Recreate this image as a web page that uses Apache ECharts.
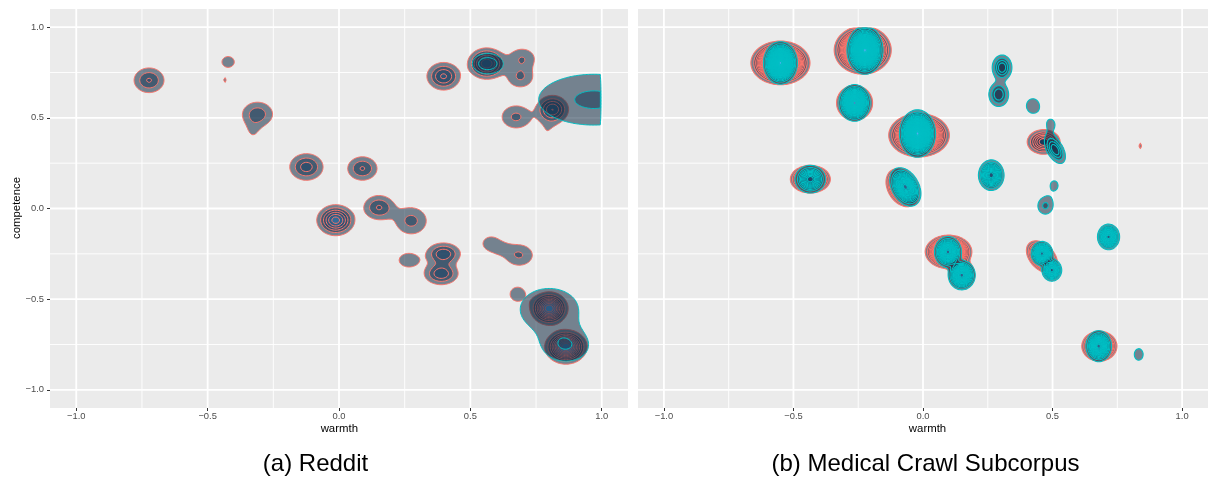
<!DOCTYPE html>
<html><head><meta charset="utf-8">
<script src="https://cdn.jsdelivr.net/npm/echarts@6/dist/echarts.min.js"></script>
<style>html,body{margin:0;padding:0;background:#fff}#c{width:1208px;height:479px}</style>
</head><body><div id="c"></div>
<script>
// ---------------- DATA ----------------
const tickValues = [-1, -0.5, 0, 0.5, 1];
const majorBreaks = [-1, -0.5, 0, 0.5, 1];
const minorBreaks = [-0.75, -0.25, 0.25, 0.75];
// density clusters: [warmth, competence, outer radius x, outer radius y, peak (in contour levels), tilt]
const redditSalmon = [
  [-0.723, 0.707, 0.057, 0.068, 3.1, 0],
  [-0.422, 0.808, 0.0235, 0.030, 1.3, 0],
  [-0.434, 0.707, 0.004, 0.011, 1.2, 0],
  [-0.310, 0.520, 0.057, 0.066, 2.6, 0],
  [-0.328, 0.420, 0.022, 0.040, 0.9, 0],
  [-0.124, 0.229, 0.0634, 0.0733, 3.5, 0],
  [0.089, 0.2205, 0.0558, 0.0645, 3.1, 0],
  [-0.0125, -0.0645, 0.0722, 0.0854, 6.5, 0],
  [0.152, 0.0055, 0.057, 0.066, 3.1, 0],
  [0.275, -0.068, 0.057, 0.0717, 2.3, 0],
  [0.398, 0.729, 0.0634, 0.0761, 4.2, 0],
  [0.562, 0.799, 0.0722, 0.0865, 7, 0],
  [0.697, 0.828, 0.045, 0.050, 1.95, 0],
  [0.690, 0.723, 0.045, 0.052, 2.05, 0],
  [0.674, 0.505, 0.053, 0.0606, 2.2, 0],
  [0.813, 0.5466, 0.0608, 0.0772, 5, 0],
  [0.7926, 0.4206, 0.0304, 0.0441, 0.9, 0],
  [0.265, -0.285, 0.036, 0.037, 1.9, 0],
  [0.3976, -0.250, 0.064, 0.060, 3.8, 0],
  [0.389, -0.360, 0.064, 0.060, 3.8, 0],
  [0.5788, -0.193, 0.0304, 0.0358, 1.3, 0],
  [0.6863, -0.2574, 0.0494, 0.0551, 2.1, 0],
  [0.6217, -0.2244, 0.0228, 0.022, 0.6, 0],
  [0.6798, -0.4724, 0.0285, 0.0386, 1.4, 0],
  [0.8002, -0.5513, 0.0722, 0.092, 10, 0],
  [0.8636, -0.763, 0.0809, 0.0954, 11, 0]
];
const redditCyan = [
  [0.970, 0.600, 0.210, 0.140, 2.2, 0],
  [0.800, -0.556, 0.110, 0.115, 1.9, 0],
  [0.8647, -0.760, 0.080, 0.080, 1.9, 0],
  [0.566, 0.799, 0.0581, 0.0551, 2.9, 0]
];
const medicalSalmon = [
  [-0.5503, 0.8027, 0.1139, 0.1202, 40, 0],
  [-0.2326, 0.8732, 0.110, 0.1323, 40, 0],
  [-0.2641, 0.5821, 0.0695, 0.0965, 20, 0],
  [-0.0152, 0.4041, 0.1169, 0.1196, 40, 0],
  [-0.4349, 0.1615, 0.077, 0.0761, 30, 0],
  [-0.080, 0.115, 0.0626, 0.1047, 30, -0.3],
  [0.4657, 0.3671, 0.0634, 0.0678, 7, 0],
  [0.8387, 0.3451, 0.005, 0.0138, 1.2, 0],
  [0.0987, -0.2392, 0.0899, 0.0921, 40, 0],
  [0.1495, -0.3622, 0.0493, 0.0772, 20, 0],
  [0.4592, -0.2668, 0.060, 0.0882, 20, -0.4],
  [0.6808, -0.7591, 0.0676, 0.0827, 30, 0]
];
const medicalCyan = [
  [-0.5503, 0.8027, 0.0653, 0.1169, 40, 0],
  [-0.2239, 0.8726, 0.0695, 0.1323, 40, 0],
  [-0.2641, 0.5821, 0.060, 0.1009, 30, 0],
  [-0.0213, 0.4134, 0.0695, 0.1307, 40, 0],
  [-0.4349, 0.1615, 0.0588, 0.0761, 11, 0],
  [-0.0683, 0.119, 0.060, 0.1058, 18, -0.35],
  [0.3051, 0.7773, 0.038, 0.0689, 5, 0],
  [0.2922, 0.6284, 0.038, 0.0662, 4, 0],
  [0.4239, 0.5656, 0.0247, 0.0397, 1.3, 0],
  [0.4949, 0.4610, 0.014, 0.026, 1.15, 0],
  [0.510, 0.3240, 0.0398, 0.075, 5, -0.5],
  [0.2634, 0.1836, 0.0493, 0.0843, 13, 0],
  [0.5063, 0.1268, 0.015, 0.026, 1.15, 0],
  [0.4721, 0.0143, 0.0285, 0.045, 2.2, 0],
  [0.7161, -0.1566, 0.0425, 0.0706, 15, 0],
  [0.0964, -0.2392, 0.052, 0.0843, 18, 0],
  [0.1495, -0.3677, 0.052, 0.081, 18, 0],
  [0.4592, -0.2481, 0.0417, 0.0662, 16, 0],
  [0.4972, -0.3401, 0.038, 0.0606, 13, 0],
  [0.6782, -0.7591, 0.0493, 0.0854, 18, 0],
  [0.8326, -0.8048, 0.0171, 0.032, 1.3, 0]
];
const captions = ['(a) Reddit', '(b) Medical Crawl Subcorpus'];

// ---------------- density + contours ----------------
const GAMMA = 2, NX = 360, NY = 250, X0 = -1, X1 = 1, Y0 = -1, Y1 = 1;
const DX = (X1 - X0) / NX, DY = (Y1 - Y0) / NY, W = NX + 1;
function densityGrid(blobs) {
  const v = new Float64Array(W * (NY + 1));
  for (const b of blobs) {
    const [bx, by, rx, ry, P, rho] = b;
    const lam = P > 1 ? Math.log(P) : Math.log(1.5);
    const dmax = Math.sqrt(Math.log(P / 0.002) / lam) * 1.1;
    const i0 = Math.max(1, Math.floor((bx - dmax * rx - X0) / DX));
    const i1 = Math.min(NX - 1, Math.ceil((bx + dmax * rx - X0) / DX));
    const j0 = Math.max(1, Math.floor((by - dmax * ry - Y0) / DY));
    const j1 = Math.min(NY - 1, Math.ceil((by + dmax * ry - Y0) / DY));
    const k = 1 - rho * rho;
    for (let j = j0; j <= j1; j++) {
      const w = (Y0 + j * DY - by) / ry;
      for (let i = i0; i <= i1; i++) {
        const u = (X0 + i * DX - bx) / rx;
        const q = (u * u - 2 * rho * u * w + w * w) / k;
        v[j * W + i] += P * Math.exp(-lam * Math.pow(q, GAMMA / 2));
      }
    }
  }
  return v;
}
const S1 = new Int32Array(2 * W * (NY + 1)).fill(-1);
const S2 = new Int32Array(2 * W * (NY + 1)).fill(-1);
function contourLevel(v, t) {
  const segA = [], segB = [];
  const push = (a, b) => { segA.push(a); segB.push(b); };
  for (let j = 0; j < NY; j++) for (let i = 0; i < NX; i++) {
    const a = v[j * W + i], b = v[j * W + i + 1], c = v[(j + 1) * W + i + 1], d = v[(j + 1) * W + i];
    const code = (a > t ? 1 : 0) | (b > t ? 2 : 0) | (c > t ? 4 : 0) | (d > t ? 8 : 0);
    if (code === 0 || code === 15) continue;
    const e0 = 2 * (j * W + i), e1 = 2 * (j * W + i + 1) + 1, e2 = 2 * ((j + 1) * W + i), e3 = 2 * (j * W + i) + 1;
    switch (code) {
      case 1: case 14: push(e3, e0); break;
      case 2: case 13: push(e0, e1); break;
      case 3: case 12: push(e3, e1); break;
      case 4: case 11: push(e1, e2); break;
      case 6: case 9: push(e0, e2); break;
      case 7: case 8: push(e3, e2); break;
      case 5: { const m = (a + b + c + d) / 4; if (m > t) { push(e0, e1); push(e2, e3); } else { push(e3, e0); push(e1, e2); } break; }
      case 10: { const m = (a + b + c + d) / 4; if (m > t) { push(e3, e0); push(e1, e2); } else { push(e0, e1); push(e2, e3); } break; }
    }
  }
  const pt = (e) => {
    const n = e >> 1, horiz = (e & 1) === 0, i = n % W, j = (n - i) / W;
    const va = v[n], vb = horiz ? v[n + 1] : v[n + W];
    const s = (t - va) / (vb - va);
    return [X0 + (i + (horiz ? s : 0)) * DX, Y0 + (j + (horiz ? 0 : s)) * DY];
  };
  const ns = segA.length;
  for (let s = 0; s < ns; s++) {
    for (const e of [segA[s], segB[s]]) { if (S1[e] < 0) S1[e] = s; else S2[e] = s; }
  }
  const used = new Uint8Array(ns), loops = [];
  for (let s = 0; s < ns; s++) {
    if (used[s]) continue;
    used[s] = 1;
    const start = segA[s]; let cur = segB[s], prev = s;
    const pts = [pt(start)];
    let guard = 0;
    while (cur !== start && guard++ < 200000) {
      pts.push(pt(cur));
      const nxt = S1[cur] === prev ? S2[cur] : S1[cur];
      if (nxt < 0 || used[nxt]) break;
      used[nxt] = 1;
      cur = segA[nxt] === cur ? segB[nxt] : segA[nxt];
      prev = nxt;
    }
    if (pts.length > 2) loops.push(pts);
  }
  for (let s = 0; s < ns; s++) { S1[segA[s]] = -1; S2[segA[s]] = -1; S1[segB[s]] = -1; S2[segB[s]] = -1; }
  return loops;
}
function contours(blobs) {
  const v = densityGrid(blobs);
  let maxv = 0; for (let k = 0; k < v.length; k++) if (v[k] > maxv) maxv = v[k];
  const out = [];
  for (let t = 1; t < maxv; t++) out.push(contourLevel(v, t));
  return out;
}

const C0 = [19, 43, 67], C1 = [86, 177, 247];
function levelColor(level, kmax) {
  const f = kmax > 1 ? (level - 1) / (kmax - 1) : 0;
  const c = C0.map((a, i) => Math.round(a + (C1[i] - a) * f));
  return 'rgba(' + c.join(',') + ',0.55)';
}
function contourSeries(gi, levels, lineColor, kmax, lw) {
  return {
    type: 'custom', coordinateSystem: 'cartesian2d', xAxisIndex: gi, yAxisIndex: gi,
    clip: true, silent: true, animation: false,
    data: levels.map((_, k) => [0, 0, k + 1]),
    encode: { x: 0, y: 1 },
    renderItem: (params, api) => {
      const level = api.value(2);
      const loops = levels[level - 1];
      const fill = levelColor(level, kmax);
      return {
        type: 'group',
        children: loops.map(loop => ({
          type: 'polygon',
          shape: { points: loop.map(p => api.coord(p)) },
          style: { fill: fill, stroke: lineColor, lineWidth: lw }
        }))
      };
    }
  };
}
function gridSeries(gi) {
  const data = majorBreaks.map(v => [v, v, 1]).concat(minorBreaks.map(v => [v, v, 0]));
  return {
    type: 'custom', coordinateSystem: 'cartesian2d', xAxisIndex: gi, yAxisIndex: gi,
    clip: true, silent: true, animation: false, data: data, encode: { x: 0, y: 1 },
    renderItem: (params, api) => {
      const v = api.value(0), major = api.value(2) === 1;
      const style = { stroke: '#FFFFFF', lineWidth: major ? 1.8 : 0.9 };
      const a = api.coord([v, -1.1]), b = api.coord([v, 1.1]);
      const c = api.coord([-1.1, v]), d = api.coord([1.1, v]);
      return { type: 'group', children: [
        { type: 'line', shape: { x1: a[0], y1: a[1], x2: b[0], y2: b[1] }, style: style },
        { type: 'line', shape: { x1: c[0], y1: c[1], x2: d[0], y2: d[1] }, style: style }
      ] };
    }
  };
}

const aS = contours(redditSalmon), aC = contours(redditCyan);
const bS = contours(medicalSalmon), bC = contours(medicalCyan);
const kA = Math.max(aS.length, aC.length), kB = Math.max(bS.length, bC.length);

const FONT = '"Liberation Sans", Arial, sans-serif';
const fmt = v => (Math.round(v * 10) / 10).toFixed(1).replace('-', '\u2212');
function xAxis(gi) {
  return { type: 'value', gridIndex: gi, min: -1.1, max: 1.1,
    axisLine: { show: false, onZero: false }, splitLine: { show: false },
    axisTick: { show: true, customValues: tickValues, length: 3, lineStyle: { color: '#333333', width: 1 } },
    axisLabel: { show: true, customValues: tickValues, formatter: fmt, color: '#4D4D4D', fontSize: 9.4, fontFamily: FONT, margin: 4 } };
}
function yAxis(gi, show) {
  return { type: 'value', gridIndex: gi, min: -1.1, max: 1.1, show: show,
    axisLine: { show: false, onZero: false }, splitLine: { show: false },
    axisTick: { show: true, customValues: tickValues, length: 3, lineStyle: { color: '#333333', width: 1 } },
    axisLabel: { show: true, customValues: tickValues, formatter: fmt, color: '#4D4D4D', fontSize: 9.4, fontFamily: FONT, margin: 6 } };
}
const txt = (x, y, s, size, rot) => ({ type: 'text', x: x, y: y, rotation: rot || 0,
  style: { text: s, fontSize: size, fontFamily: FONT, fill: '#000000', align: 'center', verticalAlign: 'middle' } });

const chart = echarts.init(document.getElementById('c'), null, { renderer: 'canvas' });
chart.setOption({
  animation: false,
  backgroundColor: '#FFFFFF',
  grid: [
    { left: 50, top: 9, width: 578, height: 399, show: true, backgroundColor: '#EBEBEB', borderWidth: 0 },
    { left: 638, top: 9, width: 579, height: 399, show: true, backgroundColor: '#EBEBEB', borderWidth: 0 }
  ],
  xAxis: [xAxis(0), xAxis(1)],
  yAxis: [yAxis(0, true), yAxis(1, false)],
  graphic: [
    txt(16.5, 208, 'competence', 11.4, Math.PI / 2),
    txt(339.3, 429, 'warmth', 11.4),
    txt(927.5, 429, 'warmth', 11.4),
    txt(315.5, 464, captions[0], 24),
    txt(925.5, 464, captions[1], 24)
  ],
  series: [
    gridSeries(0), gridSeries(1),
    contourSeries(0, aS, '#F8766D', kA, 1),
    contourSeries(0, aC, '#00BFC4', kA, 1),
    contourSeries(1, bS, '#F8766D', kB, 1.1),
    contourSeries(1, bC, '#00BFC4', kB, 1.1)
  ]
});
</script></body></html>
